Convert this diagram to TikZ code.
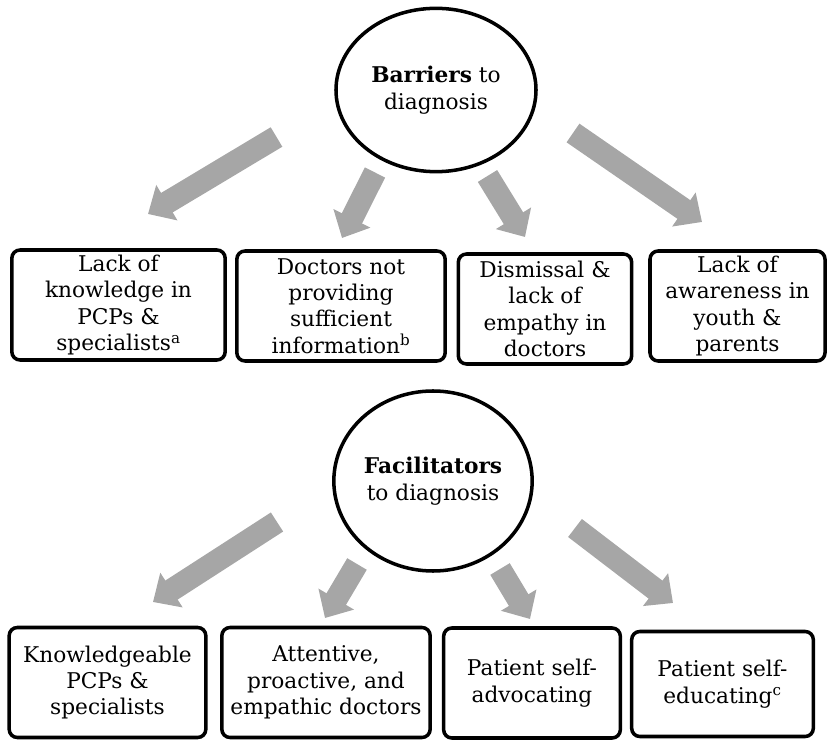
\documentclass[tikz,border=0pt]{standalone}
\usepackage{fontspec}
\setmainfont{DejaVu Serif}
\definecolor{ArrowGray}{HTML}{A6A6A6}
\definecolor{InkBlack}{HTML}{000000}
\usetikzlibrary{shapes.geometric, arrows.meta}

\begin{document}
\begin{tikzpicture}[
        x=0.03cm, y=-0.03cm,
        hub/.style={draw=InkBlack, ellipse, inner sep=0pt, align=center, font=\fontsize{18.5}{22.5}\selectfont, line width=3pt},
        box/.style={draw=InkBlack, rounded corners=7pt, minimum height=3.3cm, inner sep=0pt, align=center, font=\fontsize{18.5}{22.5}\selectfont, line width=3pt},
        arr/.style={-{Triangle[length=0.66cm, width=1.2cm]}, line width=0.68cm, ArrowGray}
    ]
        \useasboundingbox (0,0) rectangle (831,740);
        \node[hub, minimum width=6.0cm, minimum height=4.9cm] (bar) at (436, 90) {\textbf{Barriers} to\\diagnosis};
        \node[box, minimum width=6.4cm]  (b1) at (118.5, 305) {Lack of\\knowledge in\\PCPs \&\\specialists\textsuperscript{a}};
        \node[box, minimum width=6.25cm] (b2) at (341, 306) {Doctors not\\providing\\sufficient\\information\textsuperscript{b}};
        \node[box, minimum width=5.2cm]  (b3) at (545, 309) {Dismissal \&\\lack of\\empathy in\\doctors};
        \node[box, minimum width=5.25cm] (b4) at (737.5, 306) {Lack of\\awareness in\\youth \&\\parents};
        \coordinate (a1s) at (276.5, 137); \coordinate (a1e) at (148, 214);
        \coordinate (a2s) at (375, 172.5); \coordinate (a2e) at (342, 238);
        \coordinate (a3s) at (487.5, 176); \coordinate (a3e) at (525, 237);
        \coordinate (a4s) at (573, 133);   \coordinate (a4e) at (702, 222);
        \draw[arr] (a1s) -- (a1e); \draw[arr] (a2s) -- (a2e);
        \draw[arr] (a3s) -- (a3e); \draw[arr] (a4s) -- (a4e);

        \node[hub, minimum width=5.95cm, minimum height=5.4cm] (fac) at (433, 481) {\textbf{Facilitators}\\to diagnosis};
        \node[box, minimum width=5.9cm]  (f1) at (107.5, 682.5) {Knowledgeable\\PCPs \&\\specialists};
        \node[box, minimum width=6.25cm] (f2) at (326, 682.5) {Attentive,\\proactive, and\\empathic doctors};
        \node[box, minimum width=5.3cm]  (f3) at (532, 683) {Patient self-\\advocating};
        \node[box, minimum width=5.45cm, minimum height=3.15cm] (f4) at (722.5, 684) {Patient self-\\educating\textsuperscript{c}};
        \coordinate (c1s) at (277, 522); \coordinate (c1e) at (153, 602);
        \coordinate (c2s) at (357, 564); \coordinate (c2e) at (325, 618);
        \coordinate (c3s) at (500, 569); \coordinate (c3e) at (530, 619);
        \coordinate (c4s) at (575, 528); \coordinate (c4e) at (673, 603);
        \draw[arr] (c1s) -- (c1e); \draw[arr] (c2s) -- (c2e);
        \draw[arr] (c3s) -- (c3e); \draw[arr] (c4s) -- (c4e);
    \end{tikzpicture}
\end{document}
